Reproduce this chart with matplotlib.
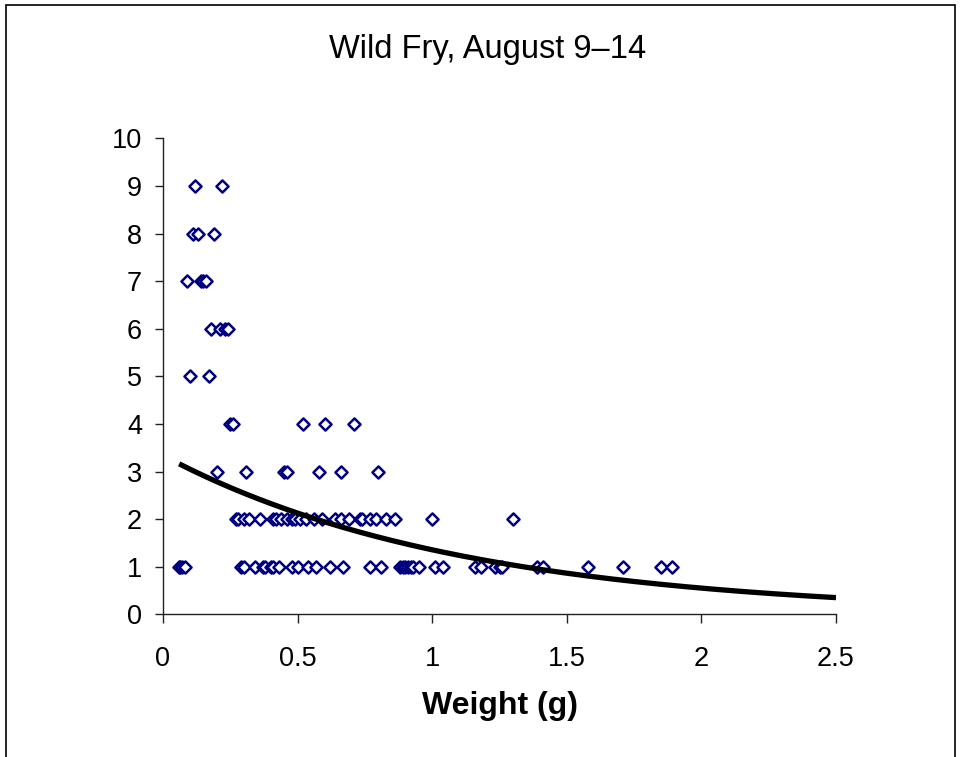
import matplotlib
matplotlib.use("Agg")
import matplotlib.pyplot as plt
import numpy as np
from matplotlib.patches import Rectangle

plt.rcParams["font.family"] = ["Liberation Sans", "DejaVu Sans"]

# fish per sample (count) against individual weight, grouped by count
WEIGHT_9 = [0.12, 0.22]
WEIGHT_8 = [0.11, 0.13, 0.19]
WEIGHT_7 = [0.09, 0.14, 0.15, 0.16]
WEIGHT_6 = [0.18, 0.21, 0.23, 0.24]
WEIGHT_5 = [0.10, 0.17]
WEIGHT_4 = [0.25, 0.26, 0.52, 0.60, 0.71]
WEIGHT_3 = [0.20, 0.31, 0.45, 0.46, 0.58, 0.66, 0.80]
WEIGHT_2 = [0.27, 0.28, 0.30, 0.32, 0.36, 0.41, 0.42, 0.44, 0.46, 0.48,
            0.49, 0.51, 0.53, 0.56, 0.59, 0.64, 0.66, 0.69, 0.73, 0.74,
            0.77, 0.79, 0.83, 0.86, 1.00, 1.30]
WEIGHT_1 = [0.06, 0.065, 0.07, 0.08, 0.29, 0.30, 0.34, 0.37, 0.38, 0.40,
            0.41, 0.43, 0.48, 0.50, 0.54, 0.57, 0.62, 0.67, 0.77, 0.81,
            0.88, 0.89, 0.90, 0.91, 0.92, 0.93, 0.95, 1.01, 1.04, 1.16,
            1.18, 1.235, 1.25, 1.26, 1.39, 1.41, 1.58, 1.71, 1.85, 1.89]
COUNTS = [9, 8, 7, 6, 5, 4, 3, 2, 1]
WEIGHTS = [WEIGHT_9, WEIGHT_8, WEIGHT_7, WEIGHT_6, WEIGHT_5,
           WEIGHT_4, WEIGHT_3, WEIGHT_2, WEIGHT_1]

X_TICKS = [0, 0.5, 1, 1.5, 2, 2.5]
X_TICK_LABELS = ["0", "0.5", "1", "1.5", "2", "2.5"]
Y_TICKS = list(range(0, 11))

x = np.concatenate([np.array(w, float) for w in WEIGHTS])
y = np.concatenate([np.full(len(w), c, float) for w, c in zip(WEIGHTS, COUNTS)])

# exponential trendline y = a*exp(b*x), least squares on log(y), forecast to 2.5
b, log_a = np.polyfit(x, np.log(y), 1)
trend_x = np.linspace(x.min(), 2.5, 200)
trend_y = np.exp(log_a) * np.exp(b * trend_x)

fig = plt.figure(figsize=(9.6, 7.57), dpi=100, facecolor="white")
ax = fig.add_axes([163 / 960, 1 - 614.3 / 757, 673 / 960, 475.9 / 757])

ax.scatter(x, y, marker="D", s=38, facecolors="white", edgecolors="#000080",
           linewidths=1.8, zorder=3)
ax.plot(trend_x, trend_y, color="black", linewidth=3.8, zorder=4,
        solid_capstyle="butt")

ax.set_xlim(0, 2.5)
ax.set_ylim(0, 10)
ax.set_xticks(X_TICKS, X_TICK_LABELS)
ax.set_yticks(Y_TICKS)
for side in ("top", "right"):
    ax.spines[side].set_visible(False)
for side in ("left", "bottom"):
    ax.spines[side].set_color("#222222")
    ax.spines[side].set_linewidth(1.0)
ax.tick_params(axis="x", direction="out", length=6.5, width=1, pad=16,
               labelsize=19.5, colors="#222222", labelcolor="black")
ax.tick_params(axis="y", direction="out", length=6, width=1, pad=9,
               labelsize=19.5, colors="#222222", labelcolor="black")

ax.set_xlabel("Weight (g)", fontsize=23, fontweight="bold", labelpad=14)
fig.text(488 / 960, 1 - 58.3 / 757, "Wild Fry, August 9\u201314",
         ha="center", va="baseline", fontsize=23.5)

# chart-area frame
fig.add_artist(Rectangle((6 / 960, -0.05), 949 / 960, 1.05 - 5 / 757,
                         transform=fig.transFigure, fill=False,
                         edgecolor="black", linewidth=1.2))

fig.savefig("out.png", dpi=100, facecolor="white")
